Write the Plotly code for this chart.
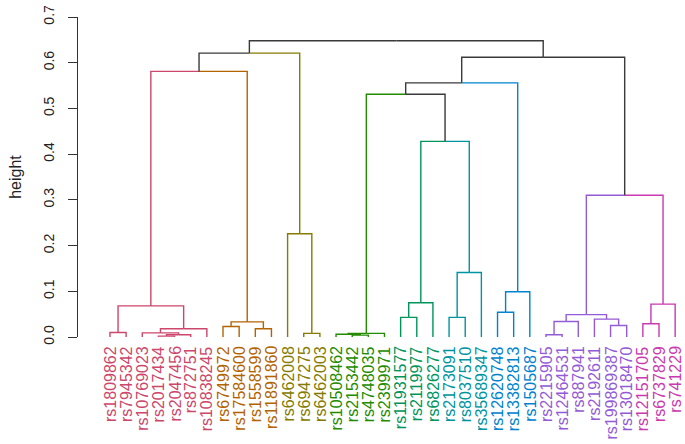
import math
import plotly.graph_objects as go

# ---- data ----
leaf_labels = ["rs1809862", "rs7945342", "rs10769023", "rs2017434", "rs2047456", "rs872751",
               "rs10838245", "rs6749972", "rs17584600", "rs1558599", "rs11891860", "rs6462008",
               "rs6947275", "rs6462003", "rs10508462", "rs2153442", "rs4748035", "rs2399971",
               "rs11931577", "rs2119977", "rs6826277", "rs2173091", "rs8037510", "rs35689347",
               "rs12620748", "rs13382813", "rs1505687", "rs2215905", "rs12464531", "rs887941",
               "rs2192611", "rs199869387", "rs13018470", "rs12151705", "rs6737829", "rs741229"]
leaf_cluster = [0, 0, 0, 0, 0, 0, 0, 1, 1, 1, 1, 2, 2, 2, 3, 3, 3, 3,
                4, 4, 4, 5, 5, 5, 6, 6, 6, 7, 7, 7, 7, 7, 7, 8, 8, 8]
# hclust-style merges: negative = leaf (1-based), positive = earlier merge (1-based)
merge_left = [-4, 1, -3, 3, -1, 5, -8, -10, 7, -13, -12, -16, -15, 13, -19, 15, -22, 17,
              -25, 19, -28, 21, -32, -31, 22, -34, 26, 6, 28, 16, 14, 31, 25, 32, 29]
merge_right = [-5, -6, 2, -7, -2, 4, -9, -11, 8, -14, 10, -17, 12, -18, -20, -21, -23, -24,
               -26, -27, -29, -30, -33, 23, 24, -35, -36, 9, 11, 18, 30, 20, 27, 33, 34]
merge_height = [0.002, 0.005, 0.009, 0.018, 0.010, 0.068, 0.023, 0.018, 0.033, 0.008, 0.226,
                0.004, 0.006, 0.008, 0.043, 0.075, 0.043, 0.141, 0.054, 0.099, 0.005, 0.034,
                0.025, 0.039, 0.049, 0.029, 0.072, 0.581, 0.621, 0.428, 0.531, 0.556, 0.310,
                0.612, 0.648]
y_ticks = [0.0, 0.1, 0.2, 0.3, 0.4, 0.5, 0.6, 0.7]
y_title = "height"


# ---- style helpers ----
def hcl_hex(h, c, l):
    un, vn = 0.1978398, 0.4683363
    Y = ((l + 16) / 116) ** 3 if l > 8 else l / 903.3
    u = c * math.cos(math.radians(h))
    v = c * math.sin(math.radians(h))
    up = u / (13 * l) + un
    vp = v / (13 * l) + vn
    X = 9 * Y * up / (4 * vp)
    Z = Y * (12 - 3 * up - 20 * vp) / (4 * vp)
    r = 3.2406 * X - 1.5372 * Y - 0.4986 * Z
    g = -0.9689 * X + 1.8758 * Y + 0.0415 * Z
    b = 0.0557 * X - 0.2040 * Y + 1.0570 * Z

    def gam(t):
        t = min(max(t, 0.0), 1.0)
        t = 12.92 * t if t <= 0.0031308 else 1.055 * t ** (1 / 2.4) - 0.055
        return int(round(min(max(t, 0), 1) * 255))
    return "#%02X%02X%02X" % (gam(r), gam(g), gam(b))


k = 9
palette = [hcl_hex(360 * i / k, 90, 50) for i in range(k)]
BLACK = "#3a3a3a"

# ---- compute dendrogram geometry ----
n = len(leaf_labels)
node_x, node_h, node_col = {}, {}, {}
for i in range(n):
    node_x[-(i + 1)] = float(i)
    node_h[-(i + 1)] = 0.0
    node_col[-(i + 1)] = palette[leaf_cluster[i]]

segs = {}
for m, (a, b, h) in enumerate(zip(merge_left, merge_right, merge_height), start=1):
    px = (node_x[a] + node_x[b]) / 2
    node_x[m], node_h[m] = px, h
    node_col[m] = node_col[a] if node_col[a] == node_col[b] else BLACK
    for ch in (a, b):
        xs, ys = segs.setdefault(node_col[ch], ([], []))
        xs += [node_x[ch], node_x[ch], px, None]
        ys += [node_h[ch], h, h, None]

fig = go.Figure()
for col, (xs, ys) in segs.items():
    fig.add_trace(go.Scatter(x=xs, y=ys, mode="lines",
                             line=dict(color=col, width=1.4),
                             hoverinfo="skip", showlegend=False, cliponaxis=False))

for i, lab in enumerate(leaf_labels):
    fig.add_annotation(x=i, y=0, xref="x", yref="y", text=lab, showarrow=False,
                       textangle=-90, xanchor="center", yanchor="top", yshift=-7,
                       font=dict(size=16, color=palette[leaf_cluster[i]]))

FONT = "Liberation Sans, Arial, sans-serif"
fig.update_layout(
    width=685, height=444,
    margin=dict(l=78, r=5, t=13, b=107),
    plot_bgcolor="white", paper_bgcolor="white",
    font=dict(family=FONT, color="#222"),
    showlegend=False,
    xaxis=dict(visible=False, range=[-1.98, 35.3]),
    yaxis=dict(range=[0, 0.7], tickvals=y_ticks,
               ticktext=["%.1f" % t for t in y_ticks],
               tickangle=-90, ticks="outside", ticklen=9, tickcolor="#333",
               ticklabelstandoff=8,
               showline=True, linecolor="#333", linewidth=1,
               showgrid=False, zeroline=False,
               tickfont=dict(size=14, color="#222"),
               title=dict(text=y_title, font=dict(size=16, color="#222"), standoff=15)),
)

fig.write_html("out.html", config={"displayModeBar": False},
               post_script="document.body.style.margin='0';document.body.style.overflow='hidden';")
